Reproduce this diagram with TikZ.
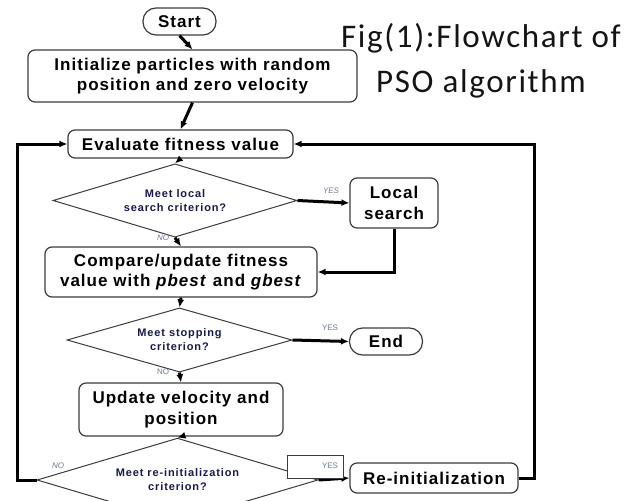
\documentclass[tikz,border=0pt]{standalone}
\usepackage{fontspec}
\setmainfont{Liberation Sans}
\newfontfamily\boxfont{Liberation Sans}[LetterSpace=6]
\newfontfamily\decfont{Liberation Sans}[LetterSpace=8]
\newfontfamily\titlefont{Carlito}[LetterSpace=5]
\usetikzlibrary{shapes.geometric,arrows.meta}
\definecolor{boxgray}{RGB}{60,60,60}
\definecolor{decnavy}{RGB}{25,25,75}
\definecolor{labgray}{RGB}{110,120,150}
\tikzset{
  procbox/.style={draw=boxgray, line width=1.2pt, rounded corners=7pt, fill=white,
    align=center, inner sep=0pt, font=\boxfont\bfseries\fontsize{17}{20.5}\selectfont},
  termbox/.style={procbox, rounded corners=13pt},
  decbox/.style={diamond, draw=boxgray, line width=1pt, aspect=2, inner sep=0pt, fill=white,
    align=center, text=decnavy, font=\decfont\bfseries\fontsize{11}{14}\selectfont},
  flowarrow/.style={-{Latex[length=8pt,width=7pt]}, line width=3pt},
  answer/.style={inner sep=0pt, text=labgray, font=\fontsize{8}{9}\selectfont}
}
\begin{document}
\begin{tikzpicture}[x=1pt,y=-1pt]
    \useasboundingbox (0,0) rectangle (628,500);
    \clip (0,0) rectangle (628,500);
    % titolo
    \node[align=center, inner sep=0pt, text={rgb,255:red,20;green,20;blue,20},
      font=\titlefont\fontsize{33}{45}\selectfont] (title) at (481,61) {Fig(1):Flowchart of\\PSO algorithm};
    % blocchi
    \node[termbox, minimum width=73, minimum height=27] (start) at (179.5,21.5) {Start};
    \node[procbox, minimum width=329, minimum height=52] (init) at (192.5,76) {Initialize particles with random\\position and zero velocity};
    \node[procbox, minimum width=225, minimum height=28] (eval) at (180.5,144) {Evaluate fitness value};
    \node[decbox, minimum width=244, minimum height=65] (local?) at (175,200.5) {Meet local\\search criterion?};
    \node[procbox, minimum width=88, minimum height=50] (local) at (394,203) {Local\\search};
    \node[procbox, minimum width=272, minimum height=50] (compare) at (181,272) {Compare/update fitness\\value with \textit{pbest} and \textit{gbest}};
    \node[decbox, minimum width=225, minimum height=52] (stop?) at (179.5,340) {Meet stopping\\criterion?};
    \node[termbox, minimum width=73, minimum height=27] (end) at (386,341.5) {End};
    \node[procbox, minimum width=204, minimum height=53] (update) at (181,409.5) {Update velocity and\\position};
    \node[decbox, minimum width=281, minimum height=64] (reinit?) at (177.5,480) {Meet re-initialization\\criterion?};
    \node[procbox, minimum width=168, minimum height=30] (reinit) at (434,478) {Re-initialization};
    \coordinate (rloop) at (534,144);
    \coordinate (lloop) at (17,144);
    % frecce
    \draw[flowarrow] (start.south) -- (init.north);
    \draw[flowarrow] (init.south) -- (eval.north);
    \draw[flowarrow] (eval.south) -- (local?.north);
    \draw[flowarrow] (local?.south) -- (compare.north);
    \draw[flowarrow] (local?.east) -- (local.west);
    \draw[flowarrow] (local.south) |- (compare.east);
    \draw[flowarrow] (compare.south) -- (stop?.north);
    \draw[flowarrow] (stop?.east) -- (end.west);
    \draw[flowarrow] (stop?.south) -- (update.north);
    \draw[flowarrow] (update.south) -- (reinit?.north);
    \draw[flowarrow] (reinit?.east) -- (reinit.west);
    \draw[flowarrow] (reinit.east) -| (rloop) -- (eval.east);
    \draw[flowarrow] (reinit?.west) -| (lloop) -- (eval.west);
    \node[draw=boxgray, line width=0.8pt, fill=white, minimum width=56, minimum height=23, inner sep=0pt] (yesbox) at (315,466.5) {};
    % si / no
    \node[answer] (yes1) at (331,191) {\textit{YES}};
    \node[answer] (no1) at (163,238) {\textit{NO}};
    \node[answer] (yes2) at (330,328) {YES};
    \node[answer] (no2) at (163,372) {NO};
    \node[answer] (yes3) at (330,466) {YES};
    \node[answer] (no3) at (58,466) {\textit{NO}};
\end{tikzpicture}
\end{document}
